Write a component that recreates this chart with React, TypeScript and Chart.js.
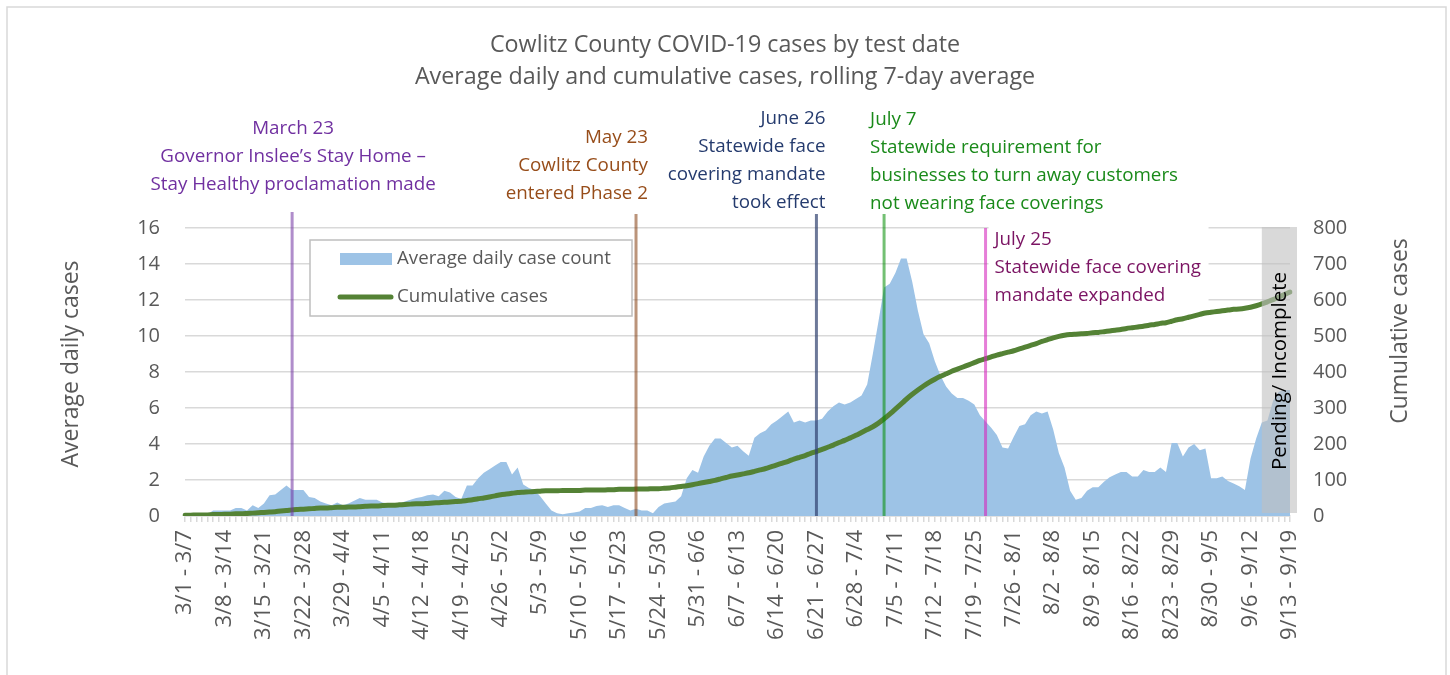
import React, { useEffect, useRef } from 'react';
import { Chart, registerables } from 'chart.js';

Chart.register(...registerables);

// ---------- DATA ----------
const CHART_TITLE = ['Cowlitz County COVID-19 cases by test date', 'Average daily and cumulative cases, rolling 7-day average'];
const LEFT_AXIS_TITLE = 'Average daily cases';
const RIGHT_AXIS_TITLE = 'Cumulative cases';
const SERIES_NAMES = ['Average daily case count', 'Cumulative cases'];
const PENDING_LABEL = 'Pending/ Incomplete';

// Rolling 7-day windows: first window 3/1 - 3/7, last 9/13 - 9/19 (2020)
const WINDOW_COUNT = 197;
const CATEGORIES: string[] = Array.from({ length: WINDOW_COUNT }, (_, i) => {
  const s = new Date(2020, 2, 1 + i);
  const e = new Date(2020, 2, 7 + i);
  return `${s.getMonth() + 1}/${s.getDate()} - ${e.getMonth() + 1}/${e.getDate()}`;
});
const LABEL_EVERY = 7;

const AVG_DAILY: number[] = [
  0, 0, 0, 0, 0.1, 0.3, 0.3, 0.3, 0.3, 0.45,
  0.45, 0.3, 0.6, 0.45, 0.7, 1.15, 1.2, 1.45, 1.7, 1.45,
  1.45, 1.45, 1.05, 1.0, 0.8, 0.7, 0.6, 0.75, 0.6, 0.7,
  0.85, 1.0, 0.9, 0.9, 0.9, 0.75, 0.7, 0.7, 0.7, 0.8,
  0.9, 1.0, 1.05, 1.15, 1.2, 1.1, 1.4, 1.3, 1.05, 0.95,
  1.7, 1.7, 2.1, 2.4, 2.6, 2.8, 3.0, 3.0, 2.3, 2.7,
  1.75, 1.55, 1.45, 1.1, 0.7, 0.3, 0.15, 0.1, 0.15, 0.2,
  0.25, 0.45, 0.45, 0.55, 0.6, 0.5, 0.6, 0.6, 0.45, 0.3,
  0.4, 0.3, 0.3, 0.15, 0.5, 0.7, 0.75, 0.8, 1.1, 2.1,
  2.55, 2.4, 3.3, 3.9, 4.3, 4.3, 4.05, 3.8, 3.9, 3.6,
  3.35, 4.35, 4.6, 4.75, 5.1, 5.3, 5.55, 5.8, 5.2, 5.3,
  5.2, 5.3, 5.3, 5.4, 5.8, 6.1, 6.3, 6.2, 6.3, 6.5,
  6.7, 7.3, 9.0, 10.8, 12.7, 12.9, 13.5, 14.3, 14.3, 13.0,
  11.4, 10.1, 9.6, 8.6, 7.8, 7.2, 6.8, 6.55, 6.55, 6.4,
  6.2, 5.6, 5.25, 4.9, 4.5, 3.8, 3.75, 4.4, 5.0, 5.1,
  5.6, 5.8, 5.7, 5.8, 4.8, 3.5, 2.7, 1.4, 0.9, 1.0,
  1.4, 1.6, 1.6, 1.9, 2.15, 2.3, 2.45, 2.45, 2.2, 2.2,
  2.55, 2.45, 2.45, 2.7, 2.45, 4.05, 4.05, 3.3, 3.8, 4.0,
  3.65, 3.75, 2.1, 2.1, 2.2, 1.95, 1.8, 1.65, 1.45, 3.2,
  4.3, 5.2, 5.3, 6.4, 6.9, 7.0, 7.0,
];

const CUMULATIVE: number[] = [
  2, 2, 3, 3, 3, 4, 4, 5, 5, 6,
  6, 7, 8, 9, 10, 11, 12, 14, 15, 17,
  18, 19, 20, 21, 22, 22, 23, 24, 24, 25,
  25, 26, 27, 28, 28, 29, 30, 30, 31, 32,
  33, 34, 34, 35, 36, 37, 38, 39, 40, 41,
  43, 45, 48, 50, 53, 56, 59, 61, 63, 65,
  66, 67, 68, 69, 70, 70, 70, 71, 71, 71,
  71, 72, 72, 72, 72, 73, 73, 74, 74, 74,
  75, 75, 75, 76, 76, 77, 78, 80, 82, 84,
  87, 90, 93, 96, 99, 103, 107, 111, 114, 117,
  120, 124, 128, 132, 137, 142, 147, 152, 158, 163,
  168, 174, 179, 185, 191, 197, 204, 210, 217, 224,
  232, 240, 248, 258, 270, 283, 297, 311, 325, 338,
  350, 361, 371, 380, 388, 395, 402, 408, 414, 420,
  426, 432, 437, 442, 447, 451, 455, 459, 464, 469,
  474, 479, 485, 490, 495, 499, 502, 504, 505, 506,
  507, 509, 510, 512, 514, 516, 518, 521, 523, 525,
  527, 530, 532, 535, 537, 541, 545, 548, 552, 556,
  560, 564, 566, 568, 570, 572, 574, 575, 577, 580,
  584, 589, 595, 601, 608, 615, 622,
];

const LEFT_MAX = 16;
const LEFT_STEP = 2;
const RIGHT_MAX = 800;
const RIGHT_STEP = 100;

// Event markers (category index of the 7-day window centred on the date)
const EVENT_INDEX = [19, 80, 112, 124, 142];
const EVENT_TEXT: string[][] = [
  ['March 23', 'Governor Inslee’s Stay Home –', 'Stay Healthy proclamation made'],
  ['May 23', 'Cowlitz County', 'entered Phase 2'],
  ['June 26', 'Statewide face', 'covering mandate', 'took effect'],
  ['July 7', 'Statewide requirement for', 'businesses to turn away customers', 'not wearing face coverings'],
  ['July 25', 'Statewide face covering', 'mandate expanded'],
];
const PENDING_START_INDEX = 191;

// ---------- STYLE ----------
const FONT = '"Open Sans", Lato, "Noto Sans", sans-serif';
const GRAY_TEXT = '#595959';
const AREA_COLOR = '#9DC3E6';
const LINE_COLOR = '#548235';
const GRID_COLOR = '#d9d9d9';

const EVENT_STYLE = [
  { text: '#7030A0', line: 'rgba(112,48,160,0.55)', align: 'center', dx: 1, y0: 129, lineTop: 212 },
  { text: '#974D1A', line: 'rgba(132,60,12,0.55)', align: 'right', dx: 12, y0: 138, lineTop: 214 },
  { text: '#253B6E', line: 'rgba(47,64,110,0.7)', align: 'right', dx: 9, y0: 119, lineTop: 214 },
  { text: '#1A8A1A', line: 'rgba(0,140,0,0.55)', align: 'left', dx: -14, y0: 120, lineTop: 214 },
  { text: '#7B1463', line: 'rgba(214,40,190,0.6)', align: 'left', dx: 9, y0: 240, lineTop: 228 },
];
const EVENT_LINE_HEIGHT = 28;

const decorPlugin = {
  id: 'decor',
  beforeDatasetsDraw(chart: any) {
    const { ctx, chartArea, scales } = chart;
    const lx = scales.x.getPixelForValue(EVENT_INDEX[4]);
    ctx.save();
    ctx.fillStyle = '#ffffff';
    ctx.fillRect(lx + 3, chartArea.top - 3, 220, 80);
    ctx.restore();
  },
  afterDatasetsDraw(chart: any) {
    const { ctx, chartArea, scales } = chart;
    const xs = scales.x;
    ctx.save();
    // vertical event lines
    EVENT_INDEX.forEach((idx, k) => {
      const st = EVENT_STYLE[k];
      const lx = xs.getPixelForValue(idx);
      ctx.strokeStyle = st.line;
      ctx.lineWidth = 3;
      ctx.beginPath();
      ctx.moveTo(lx, st.lineTop);
      ctx.lineTo(lx, chartArea.bottom);
      ctx.stroke();
    });
    // pending region
    const px = xs.getPixelForValue(PENDING_START_INDEX);
    const pr = chartArea.right + 7;
    ctx.fillStyle = 'rgba(191,191,191,0.6)';
    ctx.fillRect(px, chartArea.top - 1, pr - px, chartArea.bottom - 2 - chartArea.top);
    ctx.save();
    ctx.translate((px + pr) / 2 + 1, 371);
    ctx.rotate(-Math.PI / 2);
    ctx.fillStyle = '#000000';
    ctx.font = `20.5px ${FONT}`;
    ctx.textAlign = 'center';
    ctx.textBaseline = 'middle';
    ctx.fillText(PENDING_LABEL, 0, 0);
    ctx.restore();

    // legend
    const L = { x: 310, y: 240, w: 322, h: 76 };
    ctx.fillStyle = '#ffffff';
    ctx.fillRect(L.x, L.y, L.w, L.h);
    ctx.strokeStyle = '#bfbfbf';
    ctx.lineWidth = 1.5;
    ctx.strokeRect(L.x, L.y, L.w, L.h);
    ctx.fillStyle = AREA_COLOR;
    ctx.fillRect(340, 253, 52, 12);
    ctx.strokeStyle = LINE_COLOR;
    ctx.lineWidth = 5;
    ctx.lineCap = 'round';
    ctx.beginPath();
    ctx.moveTo(340, 297);
    ctx.lineTo(391, 297);
    ctx.stroke();
    ctx.fillStyle = GRAY_TEXT;
    ctx.font = `18.7px ${FONT}`;
    ctx.textAlign = 'left';
    ctx.textBaseline = 'middle';
    ctx.fillText(SERIES_NAMES[0], 397, 259);
    ctx.fillText(SERIES_NAMES[1], 397, 297);
    ctx.restore();
  },
  afterDraw(chart: any) {
    const { ctx, scales } = chart;
    const xs = scales.x;
    ctx.save();
    // event texts
    ctx.font = `18.8px ${FONT}`;
    ctx.textBaseline = 'middle';
    EVENT_INDEX.forEach((idx, k) => {
      const st = EVENT_STYLE[k];
      const lx = xs.getPixelForValue(idx);
      ctx.fillStyle = st.text;
      ctx.textAlign = st.align;
      EVENT_TEXT[k].forEach((t, j) => {
        ctx.fillText(t, lx + st.dx, st.y0 + j * EVENT_LINE_HEIGHT);
      });
    });
    // titles
    ctx.fillStyle = GRAY_TEXT;
    ctx.textAlign = 'center';
    ctx.font = `23.3px ${FONT}`;
    ctx.fillText(CHART_TITLE[0], 725, 45);
    ctx.fillText(CHART_TITLE[1], 725, 77);
    // axis titles
    ctx.font = `23px ${FONT}`;
    ctx.save();
    ctx.translate(71, 364);
    ctx.rotate(-Math.PI / 2);
    ctx.fillText(LEFT_AXIS_TITLE, 0, 0);
    ctx.restore();
    ctx.save();
    ctx.translate(1400, 331);
    ctx.rotate(-Math.PI / 2);
    ctx.fillText(RIGHT_AXIS_TITLE, 0, 0);
    ctx.restore();
    // outer frame
    ctx.strokeStyle = '#d9d9d9';
    ctx.lineWidth = 1.5;
    ctx.strokeRect(7, 7, 1439, 700);
    ctx.restore();
  },
};

export default function App() {
  const ref = useRef<HTMLCanvasElement | null>(null);
  useEffect(() => {
    if (!ref.current) return;
    const chart = new Chart(ref.current, {
      type: 'line',
      data: {
        labels: CATEGORIES,
        datasets: [
          {
            label: SERIES_NAMES[1],
            data: CUMULATIVE,
            yAxisID: 'y1',
            borderColor: LINE_COLOR,
            borderWidth: 5,
            pointRadius: 0,
            borderCapStyle: 'round',
            borderJoinStyle: 'round',
            fill: false,
            tension: 0.2,
            order: 1,
          },
          {
            label: SERIES_NAMES[0],
            data: AVG_DAILY,
            yAxisID: 'y',
            borderWidth: 0,
            borderColor: AREA_COLOR,
            backgroundColor: AREA_COLOR,
            pointRadius: 0,
            fill: 'origin',
            tension: 0,
            order: 2,
          },
        ],
      },
      options: {
        responsive: false,
        animation: false,
        events: [],
        layout: { padding: { top: 228, left: 0, right: 0, bottom: 0 } },
        plugins: { legend: { display: false }, title: { display: false }, tooltip: { enabled: false } },
        scales: {
          x: {
            type: 'category',
            offset: false,
            afterFit: (s: any) => { s.height = 159; },
            grid: { display: true, drawOnChartArea: false, drawTicks: true, tickLength: 6, color: GRID_COLOR, lineWidth: 1.5 },
            border: { display: true, color: GRID_COLOR, width: 1.5 },
            ticks: {
              autoSkip: false,
              maxRotation: 90,
              minRotation: 90,
              padding: 8,
              color: GRAY_TEXT,
              font: { family: FONT, size: 22 },
              callback: (_v: any, i: number) => (i % LABEL_EVERY === 0 ? CATEGORIES[i] : ''),
            },
          },
          y: {
            position: 'left',
            min: 0,
            max: LEFT_MAX,
            afterFit: (s: any) => { s.width = 185; },
            grid: { color: GRID_COLOR, lineWidth: 1.5, drawTicks: false },
            border: { display: false },
            ticks: { stepSize: LEFT_STEP, padding: 25, color: GRAY_TEXT, font: { family: FONT, size: 20 } },
          },
          y1: {
            position: 'right',
            min: 0,
            max: RIGHT_MAX,
            afterFit: (s: any) => { s.width = 160; },
            grid: { display: false, drawTicks: false },
            border: { display: false },
            ticks: { stepSize: RIGHT_STEP, padding: 23, color: GRAY_TEXT, font: { family: FONT, size: 20 } },
          },
        },
      },
      plugins: [decorPlugin],
    });
    return () => chart.destroy();
  }, []);
  return (
    <div style={{ position: 'absolute', left: 0, top: 0, width: 1450, height: 675, background: '#fff' }}>
      <canvas ref={ref} width={1450} height={675} style={{ display: 'block' }} />
    </div>
  );
}
